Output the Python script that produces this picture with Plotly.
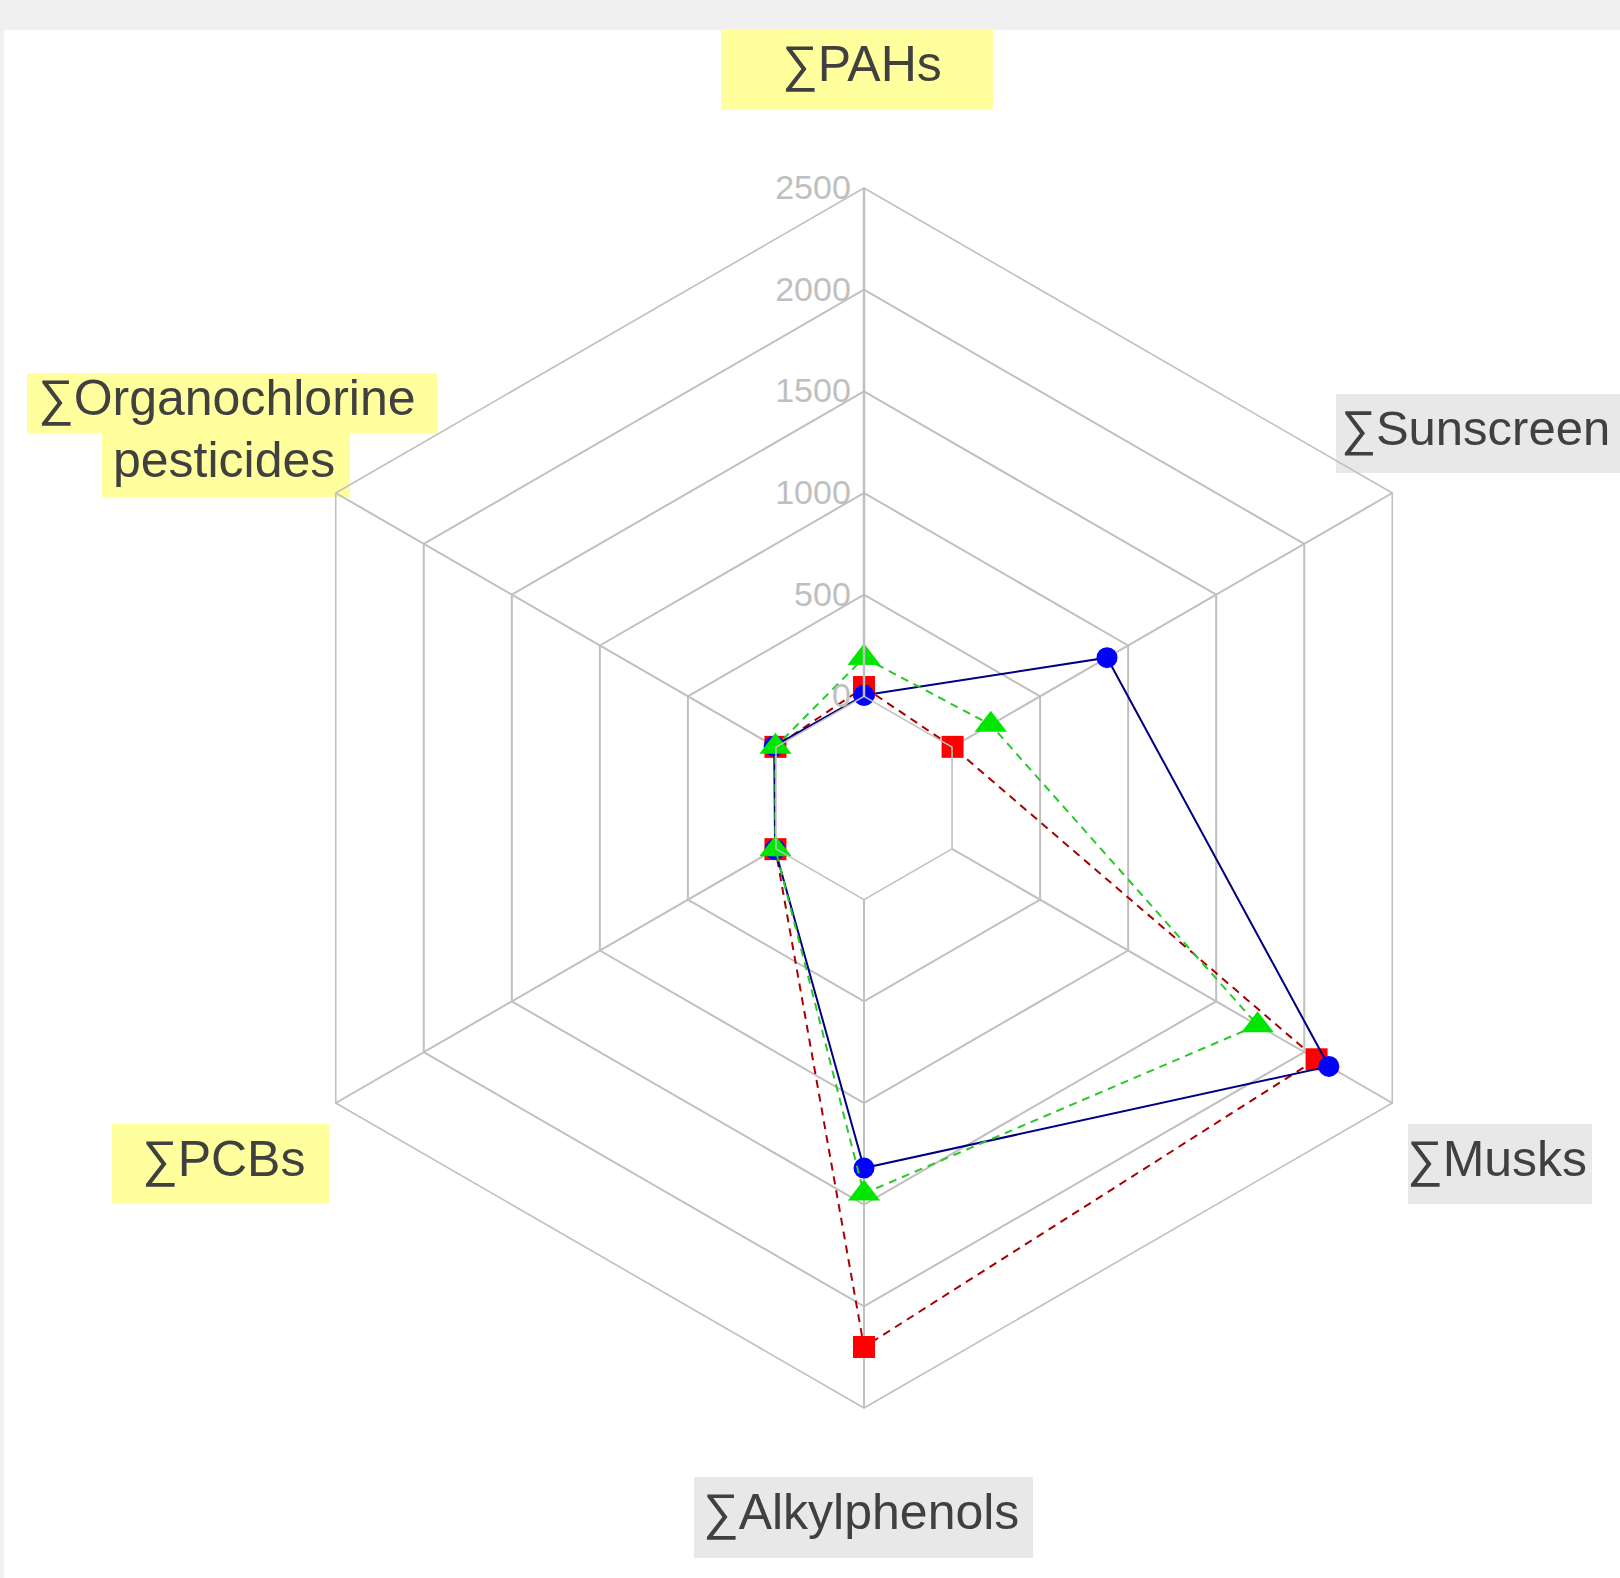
import plotly.graph_objects as go

# Axis categories, clockwise from the top
categories = ["∑PAHs", "∑Sunscreen", "∑Musks", "∑Alkylphenols", "∑PCBs",
              "∑Organochlorine pesticides"]

# Concentrations per compound group
red_values = [45, 3, 2070, 2200, 3, 3]
green_values = [190, 220, 1735, 1445, 3, 3]
blue_values = [5, 880, 2140, 1320, 5, 10]

radial_ticks = [0, 500, 1000, 1500, 2000, 2500]
radial_tick_text = ["0", "500", "1000", "1500", "2000", "2500"]

W, H = 1620, 1578
FONT = "Liberation Sans, Arial, sans-serif"


def px(x):
    return x / W


def py(y):
    return 1 - y / H


def closed(vals):
    return list(vals) + [vals[0]]


theta = closed(categories)

fig = go.Figure()

fig.add_trace(go.Scatterpolar(
    r=closed(red_values), theta=theta, mode="lines+markers",
    line=dict(color="#a80000", width=2, dash="8px,6px"),
    marker=dict(symbol="square", size=22, color="#ff0000", line=dict(width=0)),
    cliponaxis=False, showlegend=False,
))
fig.add_trace(go.Scatterpolar(
    r=closed(blue_values), theta=theta, mode="lines+markers",
    line=dict(color="#000080", width=2),
    marker=dict(symbol="circle", size=21, color="#0000ff", line=dict(width=0)),
    cliponaxis=False, showlegend=False,
))
fig.add_trace(go.Scatterpolar(
    r=closed(green_values), theta=theta, mode="lines+markers",
    line=dict(color="#2ac82a", width=2, dash="8px,6px"),
    marker=dict(symbol="triangle-up", size=28, color="#00e600", line=dict(width=0)),
    cliponaxis=False, showlegend=False,
))

# Polar area: centre (864, 798), outer radius 610 px
cx, cy, R = 864, 798, 610
grid_col = "#c0c0c0"

YELLOW = "#ffff9e"
GREY = "#e8e8e8"
TXT = "#404040"

# Highlight boxes behind the category labels (x0, x1, y0, y1, colour)
label_boxes = [
    (721, 993, 29, 110, YELLOW),
    (1336, 1640, 394, 473, GREY),
    (1408, 1592, 1124, 1204, GREY),
    (694, 1033, 1477, 1558, GREY),
    (112, 329, 1124, 1204, YELLOW),
    (27, 437, 373, 433, YELLOW),
    (102, 350, 433, 497, YELLOW),
]

shapes = [dict(type="rect", xref="paper", yref="paper", layer="below",
               x0=px(4), x1=1, y0=0, y1=py(30),
               fillcolor="white", line=dict(width=0))]
for x0, x1, y0, y1, col in label_boxes:
    shapes.append(dict(type="rect", xref="paper", yref="paper", layer="below",
                       x0=px(x0), x1=px(x1), y0=py(y1), y1=py(y0),
                       fillcolor=col, line=dict(width=0)))

fig.update_layout(
    width=W, height=H,
    margin=dict(l=0, r=0, t=0, b=0),
    paper_bgcolor="#f0f0f0",
    font=dict(family=FONT),
    polar=dict(
        domain=dict(x=[px(cx - R), px(cx + R)], y=[py(cy + R), py(cy - R)]),
        bgcolor="rgba(0,0,0,0)",
        gridshape="linear",
        hole=1 / 6,
        radialaxis=dict(
            range=[0, 2500], angle=90, side="counterclockwise", tickangle=90,
            tickvals=radial_ticks, ticktext=radial_tick_text,
            tickfont=dict(size=34, color="#bfbfbf", family=FONT),
            showline=True, linecolor=grid_col, linewidth=2.5,
            gridcolor=grid_col, gridwidth=1.6, ticks="",
        ),
        angularaxis=dict(
            rotation=90, direction="clockwise",
            showticklabels=False, ticks="",
            showline=True, linecolor=grid_col, linewidth=1.6,
            gridcolor=grid_col, gridwidth=1.6,
        ),
    ),
    shapes=shapes,
)


def label(text, x, y, anchor="center", size=50):
    fig.add_annotation(
        text=text, xref="paper", yref="paper", x=px(x), y=py(y),
        xanchor=anchor, yanchor="middle", showarrow=False,
        font=dict(size=size, color=TXT, family=FONT),
    )


ocp_words = categories[5].split(" ")
label(categories[0], 862, 64)
label(categories[1], 1339, 428, "left", size=49)
label(categories[2], 1497, 1159)
label(categories[3], 861, 1512)
label(categories[4], 223, 1159)
label(ocp_words[0], 36, 398, "left")
label(ocp_words[1], 224, 460)

fig.write_html("out.html")
